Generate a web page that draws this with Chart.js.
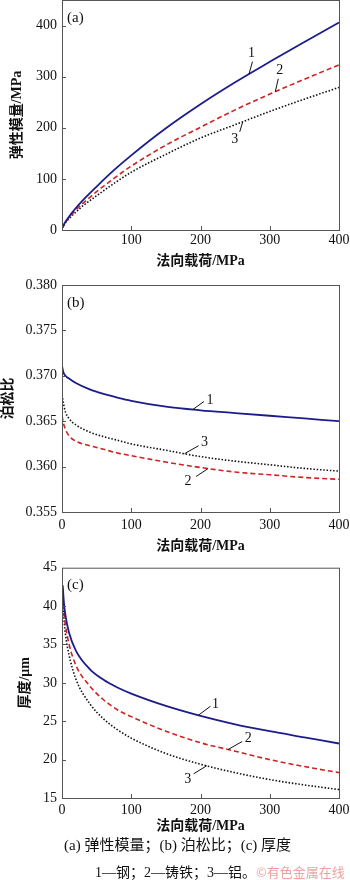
<!DOCTYPE html>
<html>
<head>
<meta charset="utf-8">
<script src="https://cdn.jsdelivr.net/npm/chart.js@4.4.0/dist/chart.umd.min.js"></script>
<style>
  body { margin: 0; background: #fff; }
  #wrap { position: relative; width: 350px; height: 880px; background: #fff; overflow: hidden; }
  .box { position: absolute; left: 0; width: 350px; }
  .cap { position: absolute; font-family: "Liberation Serif", "Noto Sans CJK SC", serif; color: #111; white-space: nowrap; }
</style>
</head>
<body>
<div id="wrap">
  <div class="box" style="top:0;height:270px"><canvas id="chartA"></canvas></div>
  <div class="box" style="top:270px;height:285px"><canvas id="chartB"></canvas></div>
  <div class="box" style="top:555px;height:285px"><canvas id="chartC"></canvas></div>
  <div class="cap" style="left:64px;top:835px;font-size:15px;line-height:20px">(a) 弹性模量；(b) 泊松比；(c) 厚度</div>
  <div class="cap" style="left:95px;top:862px;font-size:14px;line-height:19px">1—钢；2—铸铁；3—铝。<span style="color:#f0a0a0;font-family:'Noto Sans CJK SC';font-size:13px">©有色金属在线</span></div>
</div>
<script>
// load values (MPa) for each panel
const loadA = [0, 5, 10, 20, 30, 50, 75, 100, 150, 200, 250, 300, 350, 400];
const loadB = [0, 2, 5, 10, 20, 40, 60, 80, 100, 150, 200, 250, 300, 350, 400];
const loadC = [1, 3, 5, 10, 20, 40, 60, 80, 100, 150, 200, 250, 300, 350, 400];

// (a) elastic modulus, MPa
const modSteel = [3, 16, 26, 43, 58, 85, 117, 146, 199, 246, 289, 329, 368, 406];
const modIron  = [3, 15, 24, 39, 52, 75, 101, 125, 166, 201, 235, 266, 295, 323];
const modAlu   = [3, 14, 22, 35, 47, 67, 91, 113, 148, 180, 206, 232, 256, 279];

// (b) poisson ratio
const nuSteel = [0.3711, 0.3704, 0.3700, 0.3697, 0.3692, 0.3685, 0.3680, 0.3676, 0.36725, 0.3666, 0.3662, 0.3659, 0.3656, 0.3653, 0.3650];
const nuIron  = [0.3656, 0.3648, 0.3641, 0.3634, 0.3628, 0.3623, 0.3619, 0.3615, 0.3612, 0.3605, 0.3599, 0.3594, 0.3591, 0.3588, 0.3586];
const nuAlu   = [0.3679, 0.3670, 0.3660, 0.3653, 0.3646, 0.3638, 0.3633, 0.3629, 0.3625, 0.3618, 0.3611, 0.3606, 0.3602, 0.3598, 0.3595];

// (c) thickness, um
const thSteel = [42.7, 40.2, 38.8, 36.6, 34.2, 31.8, 30.4, 29.4, 28.6, 27.0, 25.7, 24.6, 23.7, 22.9, 22.1];
const thIron  = [42.3, 39.0, 37.5, 35.1, 32.3, 29.6, 27.8, 26.5, 25.6, 23.7, 22.2, 21.1, 20.0, 19.1, 18.3];
const thAlu   = [42.0, 38.2, 36.3, 33.7, 30.5, 27.3, 25.3, 23.9, 22.8, 20.8, 19.4, 18.3, 17.4, 16.7, 16.1];

const xTicks = [0, 100, 200, 300, 400];

const FONT = '"Liberation Serif", "Noto Sans CJK SC", serif';
Chart.defaults.font.family = FONT;
Chart.defaults.color = '#111';

const styles = [
  { borderColor: 'rgb(28,28,140)', borderWidth: 1.8, borderDash: [] },
  { borderColor: 'rgb(205,35,35)', borderWidth: 1.6, borderDash: [5, 3] },
  { borderColor: '#111', borderWidth: 1.6, borderDash: [1.5, 1.8] }
];

function pts(xs, ys) {
  return xs.map((x, i) => ({ x: x, y: ys[i] }));
}

// frame, inward ticks, panel letter and numbered leader labels
const decor = {
  id: 'decor',
  afterDraw(chart, args, opts) {
    const { ctx, chartArea: a, scales } = chart;
    ctx.save();
    ctx.strokeStyle = '#555';
    ctx.lineWidth = 1;
    ctx.strokeRect(a.left + 0.5, a.top + 0.5, a.right - a.left, a.bottom - a.top);
    ctx.beginPath();
    scales.x.ticks.forEach(t => {
      const px = Math.round(scales.x.getPixelForValue(t.value)) + 0.5;
      ctx.moveTo(px, a.bottom); ctx.lineTo(px, a.bottom - 4);
    });
    scales.y.ticks.forEach(t => {
      if (t.value >= scales.y.max || t.value <= scales.y.min) return;
      const py = Math.round(scales.y.getPixelForValue(t.value)) + 0.5;
      ctx.moveTo(a.left, py); ctx.lineTo(a.left + 4, py);
    });
    ctx.stroke();

    ctx.fillStyle = '#111';
    ctx.font = '15px ' + FONT;
    ctx.textBaseline = 'middle';
    ctx.textAlign = 'left';
    ctx.fillText(opts.panel, a.left + 5, a.top + opts.panelY);

    ctx.font = '14px ' + FONT;
    ctx.textAlign = 'center';
    ctx.strokeStyle = '#111';
    opts.labels.forEach(l => {
      const d = chart.data.datasets[l.ds].data;
      let y = d[d.length - 1].y;
      for (let i = 1; i < d.length; i++) {
        if (d[i].x >= l.x) {
          const f = (l.x - d[i - 1].x) / (d[i].x - d[i - 1].x);
          y = d[i - 1].y + f * (d[i].y - d[i - 1].y);
          break;
        }
      }
      const px = scales.x.getPixelForValue(l.x);
      const py = scales.y.getPixelForValue(y);
      ctx.beginPath();
      ctx.moveTo(px, py);
      ctx.lineTo(px + l.lx, py + l.ly);
      ctx.stroke();
      ctx.fillText(l.text, px + l.tx, py + l.ty);
    });
    ctx.restore();
  }
};

function makeChart(id, xs, series, yOpt, cfg) {
  return new Chart(document.getElementById(id), {
    type: 'line',
    data: {
      datasets: series.map((s, i) => Object.assign({
        data: pts(xs, s),
        pointRadius: 0,
        fill: false,
        cubicInterpolationMode: 'monotone'
      }, styles[i]))
    },
    options: {
      responsive: true,
      maintainAspectRatio: false,
      animation: false,
      events: [],
      layout: { padding: { top: cfg.padTop, right: 11, bottom: 0, left: 0 } },
      plugins: {
        legend: { display: false },
        tooltip: { enabled: false },
        decor: { panel: cfg.panel, panelY: cfg.panelY, labels: cfg.labels }
      },
      scales: {
        x: {
          type: 'linear',
          min: 0, max: 400,
          afterBuildTicks: s => { s.ticks = xTicks.map(v => ({ value: v })); },
          grid: { display: false, drawTicks: false },
          border: { display: false },
          ticks: {
            padding: cfg.xTickPad,
            font: { size: 14 },
            color: '#111',
            callback: v => (cfg.hideX0 && v === 0) ? '' : v
          },
          title: {
            display: true,
            text: '法向载荷/MPa',
            font: { size: 14, weight: 'bold', lineHeight: 1.2 },
            color: '#111',
            padding: { top: 0, bottom: cfg.xTitlePad }
          },
          afterFit: s => { s.height = cfg.xHeight; s.paddingLeft = 0; s.paddingRight = 0; }
        },
        y: Object.assign({
          grid: { display: false, drawTicks: false },
          border: { display: false },
          title: {
            display: true,
            text: cfg.yTitle,
            font: { size: 14, weight: 'bold', lineHeight: 1.2 },
            color: '#111',
            padding: { top: cfg.yTitlePad, bottom: 0 }
          },
          afterFit: s => { s.width = 62; s.paddingTop = 0; s.paddingBottom = 0; }
        }, yOpt)
      }
    },
    plugins: [decor]
  });
}

makeChart('chartA', loadA, [modSteel, modIron, modAlu], {
  min: 0, max: 450,
  ticks: { stepSize: 100, padding: 5, font: { size: 14 }, color: '#111', callback: v => v > 400 ? '' : v }
}, {
  panel: '(a)', panelY: 18, padTop: 0, xHeight: 40, xTickPad: 2, xTitlePad: 0, hideX0: true,
  yTitle: '弹性模量/MPa', yTitlePad: 9,
  labels: [
    { text: '1', ds: 0, x: 270, lx: 3.5, ly: -12.5, tx: 2.5, ty: -21 },
    { text: '2', ds: 1, x: 308, lx: 3, ly: -13, tx: 4.5, ty: -21 },
    { text: '3', ds: 2, x: 261, lx: -3, ly: 10, tx: -8, ty: 18 }
  ]
});

makeChart('chartB', loadB, [nuSteel, nuIron, nuAlu], {
  min: 0.355, max: 0.380,
  ticks: { stepSize: 0.005, padding: 5, font: { size: 14 }, color: '#111', callback: v => v.toFixed(3) }
}, {
  panel: '(b)', panelY: 18, padTop: 15, xHeight: 43, xTickPad: 4.5, xTitlePad: 0, hideX0: false,
  yTitle: '泊松比', yTitlePad: 0,
  labels: [
    { text: '1', ds: 0, x: 189, lx: 11, ly: -8, tx: 17, ty: -9 },
    { text: '3', ds: 2, x: 177, lx: 14, ly: -8, tx: 20, ty: -11 },
    { text: '2', ds: 1, x: 211, lx: -12, ly: 8, tx: -20, ty: 13 }
  ]
});

makeChart('chartC', loadC, [thSteel, thIron, thAlu], {
  min: 15, max: 45,
  ticks: { stepSize: 5, padding: 5, font: { size: 14 }, color: '#111' }
}, {
  panel: '(c)', panelY: 17, padTop: 12.7, xHeight: 42, xTickPad: 3.5, xTitlePad: 5, hideX0: false,
  yTitle: '厚度/μm', yTitlePad: 16.6,
  labels: [
    { text: '1', ds: 0, x: 197, lx: 12, ly: -9, tx: 17, ty: -11 },
    { text: '2', ds: 1, x: 240, lx: 14, ly: -8, tx: 20, ty: -11 },
    { text: '3', ds: 2, x: 209, lx: -13, ly: 8, tx: -19, ty: 14 }
  ]
});
</script>
</body>
</html>
